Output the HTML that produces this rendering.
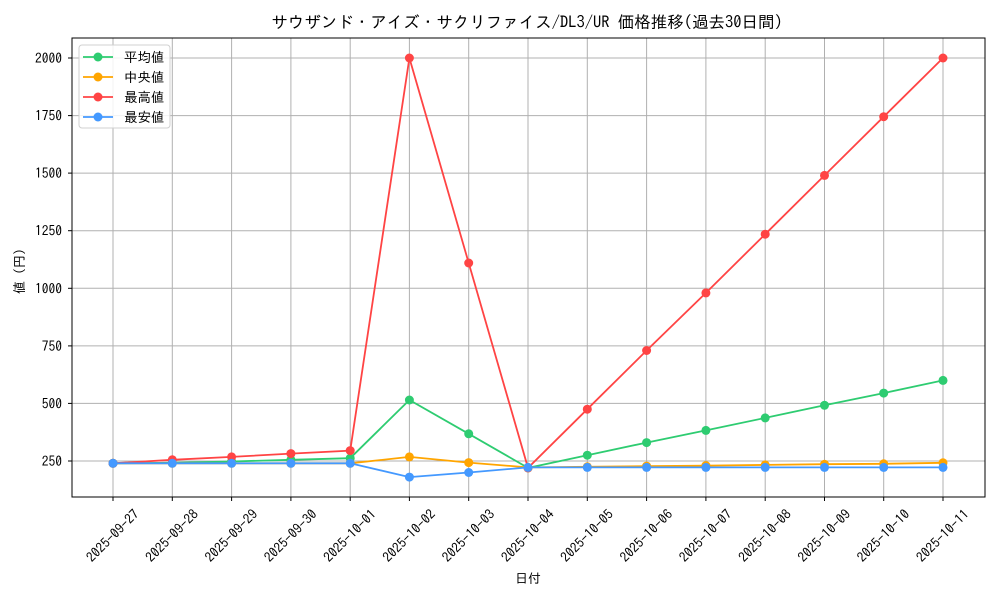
<!DOCTYPE html>
<html><head><meta charset="utf-8"><style>body{margin:0;background:#fff}svg{display:block;font-family:"IPAGothic","Liberation Sans","Noto Sans CJK JP",sans-serif}</style></head><body>
<svg width="1000" height="600" xmlns="http://www.w3.org/2000/svg">
<rect width="1000" height="600" fill="#fff"/>
<g stroke="#b0b0b0" stroke-width="1">
<line x1="113" y1="38" x2="113" y2="497"/><line x1="172.3" y1="38" x2="172.3" y2="497"/><line x1="231.6" y1="38" x2="231.6" y2="497"/><line x1="290.9" y1="38" x2="290.9" y2="497"/><line x1="350.2" y1="38" x2="350.2" y2="497"/><line x1="409.4" y1="38" x2="409.4" y2="497"/><line x1="468.7" y1="38" x2="468.7" y2="497"/><line x1="528" y1="38" x2="528" y2="497"/><line x1="587.3" y1="38" x2="587.3" y2="497"/><line x1="646.6" y1="38" x2="646.6" y2="497"/><line x1="705.9" y1="38" x2="705.9" y2="497"/><line x1="765.2" y1="38" x2="765.2" y2="497"/><line x1="824.5" y1="38" x2="824.5" y2="497"/><line x1="883.7" y1="38" x2="883.7" y2="497"/><line x1="943" y1="38" x2="943" y2="497"/>
<line x1="72" y1="461" x2="985" y2="461"/><line x1="72" y1="403.4" x2="985" y2="403.4"/><line x1="72" y1="345.9" x2="985" y2="345.9"/><line x1="72" y1="288.3" x2="985" y2="288.3"/><line x1="72" y1="230.7" x2="985" y2="230.7"/><line x1="72" y1="173.1" x2="985" y2="173.1"/><line x1="72" y1="115.6" x2="985" y2="115.6"/><line x1="72" y1="58" x2="985" y2="58"/>
</g>
<rect x="72" y="38" width="913" height="459" fill="none" stroke="#000" stroke-width="1"/>
<g stroke="#000"><line x1="68" y1="461" x2="72" y2="461"/><line x1="68" y1="403.4" x2="72" y2="403.4"/><line x1="68" y1="345.9" x2="72" y2="345.9"/><line x1="68" y1="288.3" x2="72" y2="288.3"/><line x1="68" y1="230.7" x2="72" y2="230.7"/><line x1="68" y1="173.1" x2="72" y2="173.1"/><line x1="68" y1="115.6" x2="72" y2="115.6"/><line x1="68" y1="58" x2="72" y2="58"/></g>
<g font-size="13.5" text-anchor="end" fill="#000"><text x="62" y="466">250</text><text x="62" y="408.4">500</text><text x="62" y="350.9">750</text><text x="62" y="293.3">1000</text><text x="62" y="235.7">1250</text><text x="62" y="178.1">1500</text><text x="62" y="120.6">1750</text><text x="62" y="63">2000</text></g>
<g font-size="13.5" text-anchor="middle" fill="#000">
<text transform="translate(116,539) rotate(-45)">2025-09-27</text><text transform="translate(175.3,539) rotate(-45)">2025-09-28</text><text transform="translate(234.6,539) rotate(-45)">2025-09-29</text><text transform="translate(293.9,539) rotate(-45)">2025-09-30</text><text transform="translate(353.2,539) rotate(-45)">2025-10-01</text><text transform="translate(412.4,539) rotate(-45)">2025-10-02</text><text transform="translate(471.7,539) rotate(-45)">2025-10-03</text><text transform="translate(531,539) rotate(-45)">2025-10-04</text><text transform="translate(590.3,539) rotate(-45)">2025-10-05</text><text transform="translate(649.6,539) rotate(-45)">2025-10-06</text><text transform="translate(708.9,539) rotate(-45)">2025-10-07</text><text transform="translate(768.2,539) rotate(-45)">2025-10-08</text><text transform="translate(827.5,539) rotate(-45)">2025-10-09</text><text transform="translate(886.7,539) rotate(-45)">2025-10-10</text><text transform="translate(946,539) rotate(-45)">2025-10-11</text>
</g>
<g stroke="#000"><line x1="113" y1="497" x2="113" y2="501"/><line x1="172.3" y1="497" x2="172.3" y2="501"/><line x1="231.6" y1="497" x2="231.6" y2="501"/><line x1="290.9" y1="497" x2="290.9" y2="501"/><line x1="350.2" y1="497" x2="350.2" y2="501"/><line x1="409.4" y1="497" x2="409.4" y2="501"/><line x1="468.7" y1="497" x2="468.7" y2="501"/><line x1="528" y1="497" x2="528" y2="501"/><line x1="587.3" y1="497" x2="587.3" y2="501"/><line x1="646.6" y1="497" x2="646.6" y2="501"/><line x1="705.9" y1="497" x2="705.9" y2="501"/><line x1="765.2" y1="497" x2="765.2" y2="501"/><line x1="824.5" y1="497" x2="824.5" y2="501"/><line x1="883.7" y1="497" x2="883.7" y2="501"/><line x1="943" y1="497" x2="943" y2="501"/></g>
<text x="527" y="28" font-size="16.5" text-anchor="middle">サウザンド・アイズ・サクリファイス/DL3/UR 価格推移(過去30日間)</text>
<text x="528" y="583" font-size="13" text-anchor="middle">日付</text>
<text transform="translate(24,268) rotate(-90)" font-size="13" text-anchor="middle">値（円）</text>
<polyline fill="none" stroke="#2ecc71" stroke-width="1.8" points="113,463.3 172.3,462.8 231.6,461.5 290.9,459.8 350.2,458.2 409.4,400 468.7,433.8 528,467.9 587.3,455.2 646.6,442.6 705.9,430.4 765.2,417.9 824.5,405.3 883.7,393.1 943,380.4"/>
<g fill="#2ecc71"><circle cx="113" cy="463.3" r="4.5"/><circle cx="172.3" cy="462.8" r="4.5"/><circle cx="231.6" cy="461.5" r="4.5"/><circle cx="290.9" cy="459.8" r="4.5"/><circle cx="350.2" cy="458.2" r="4.5"/><circle cx="409.4" cy="400" r="4.5"/><circle cx="468.7" cy="433.8" r="4.5"/><circle cx="528" cy="467.9" r="4.5"/><circle cx="587.3" cy="455.2" r="4.5"/><circle cx="646.6" cy="442.6" r="4.5"/><circle cx="705.9" cy="430.4" r="4.5"/><circle cx="765.2" cy="417.9" r="4.5"/><circle cx="824.5" cy="405.3" r="4.5"/><circle cx="883.7" cy="393.1" r="4.5"/><circle cx="943" cy="380.4" r="4.5"/></g>
<polyline fill="none" stroke="#ffa500" stroke-width="1.8" points="113,463.3 172.3,463.3 231.6,463.3 290.9,463.3 350.2,463.3 409.4,456.9 468.7,462.6 528,467.4 587.3,466.8 646.6,466.1 705.9,465.6 765.2,464.9 824.5,464.2 883.7,463.8 943,462.8"/>
<g fill="#ffa500"><circle cx="113" cy="463.3" r="4.5"/><circle cx="172.3" cy="463.3" r="4.5"/><circle cx="231.6" cy="463.3" r="4.5"/><circle cx="290.9" cy="463.3" r="4.5"/><circle cx="350.2" cy="463.3" r="4.5"/><circle cx="409.4" cy="456.9" r="4.5"/><circle cx="468.7" cy="462.6" r="4.5"/><circle cx="528" cy="467.4" r="4.5"/><circle cx="587.3" cy="466.8" r="4.5"/><circle cx="646.6" cy="466.1" r="4.5"/><circle cx="705.9" cy="465.6" r="4.5"/><circle cx="765.2" cy="464.9" r="4.5"/><circle cx="824.5" cy="464.2" r="4.5"/><circle cx="883.7" cy="463.8" r="4.5"/><circle cx="943" cy="462.8" r="4.5"/></g>
<polyline fill="none" stroke="#ff4444" stroke-width="1.8" points="113,463.3 172.3,459.8 231.6,456.9 290.9,453.6 350.2,450.6 409.4,58 468.7,263 528,467.9 587.3,409.2 646.6,350.5 705.9,292.9 765.2,234.2 824.5,175.4 883.7,116.7 943,58"/>
<g fill="#ff4444"><circle cx="113" cy="463.3" r="4.5"/><circle cx="172.3" cy="459.8" r="4.5"/><circle cx="231.6" cy="456.9" r="4.5"/><circle cx="290.9" cy="453.6" r="4.5"/><circle cx="350.2" cy="450.6" r="4.5"/><circle cx="409.4" cy="58" r="4.5"/><circle cx="468.7" cy="263" r="4.5"/><circle cx="528" cy="467.9" r="4.5"/><circle cx="587.3" cy="409.2" r="4.5"/><circle cx="646.6" cy="350.5" r="4.5"/><circle cx="705.9" cy="292.9" r="4.5"/><circle cx="765.2" cy="234.2" r="4.5"/><circle cx="824.5" cy="175.4" r="4.5"/><circle cx="883.7" cy="116.7" r="4.5"/><circle cx="943" cy="58" r="4.5"/></g>
<polyline fill="none" stroke="#4499ff" stroke-width="1.8" points="113,463.3 172.3,463.3 231.6,463.3 290.9,463.3 350.2,463.3 409.4,477.1 468.7,472.5 528,467.4 587.3,467.4 646.6,467.4 705.9,467.4 765.2,467.4 824.5,467.4 883.7,467.4 943,467.4"/>
<g fill="#4499ff"><circle cx="113" cy="463.3" r="4.5"/><circle cx="172.3" cy="463.3" r="4.5"/><circle cx="231.6" cy="463.3" r="4.5"/><circle cx="290.9" cy="463.3" r="4.5"/><circle cx="350.2" cy="463.3" r="4.5"/><circle cx="409.4" cy="477.1" r="4.5"/><circle cx="468.7" cy="472.5" r="4.5"/><circle cx="528" cy="467.4" r="4.5"/><circle cx="587.3" cy="467.4" r="4.5"/><circle cx="646.6" cy="467.4" r="4.5"/><circle cx="705.9" cy="467.4" r="4.5"/><circle cx="765.2" cy="467.4" r="4.5"/><circle cx="824.5" cy="467.4" r="4.5"/><circle cx="883.7" cy="467.4" r="4.5"/><circle cx="943" cy="467.4" r="4.5"/></g>
<rect x="79" y="45" width="91" height="83" rx="3" fill="#fff" fill-opacity="0.85" stroke="#d0d0d0"/>
<g stroke-width="1.8">
<line x1="83" y1="57" x2="113" y2="57" stroke="#2ecc71"/><circle cx="98" cy="57" r="4.5" fill="#2ecc71"/>
<line x1="83" y1="77" x2="113" y2="77" stroke="#ffa500"/><circle cx="98" cy="77" r="4.5" fill="#ffa500"/>
<line x1="83" y1="97" x2="113" y2="97" stroke="#ff4444"/><circle cx="98" cy="97" r="4.5" fill="#ff4444"/>
<line x1="83" y1="117" x2="113" y2="117" stroke="#4499ff"/><circle cx="98" cy="117" r="4.5" fill="#4499ff"/>
</g>
<g font-size="13.5"><text x="124" y="62">平均値</text><text x="124" y="82">中央値</text><text x="124" y="102">最高値</text><text x="124" y="122">最安値</text></g>
</svg>
</body></html>
